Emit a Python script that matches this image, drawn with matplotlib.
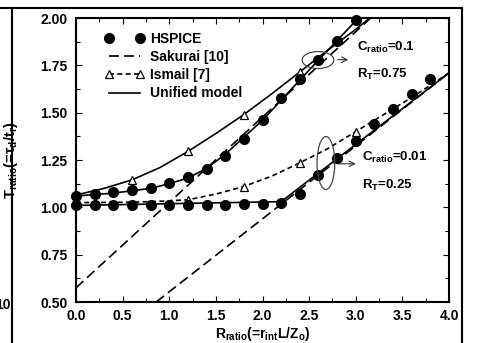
import matplotlib
matplotlib.use("Agg")
import matplotlib.pyplot as plt
from matplotlib.patches import Ellipse
from matplotlib.lines import Line2D
from matplotlib.ticker import MultipleLocator

plt.rcParams['font.family'] = ['Liberation Sans', 'DejaVu Sans']
plt.rcParams['font.weight'] = 'bold'
plt.rcParams['mathtext.fontset'] = 'custom'
plt.rcParams['mathtext.rm'] = 'Liberation Sans:bold'
plt.rcParams['mathtext.bf'] = 'Liberation Sans:bold'
plt.rcParams['mathtext.it'] = 'Liberation Sans:bold'
plt.rcParams['mathtext.default'] = 'bf'

# ---- data ----
# HSPICE, C_ratio=0.1, R_T=0.75
hs_hi_x = [0.0, 0.2, 0.4, 0.6, 0.8, 1.0, 1.2, 1.4, 1.6, 1.8, 2.0, 2.2, 2.4, 2.6, 2.8, 3.0]
hs_hi_y = [1.06, 1.07, 1.08, 1.09, 1.10, 1.13, 1.16, 1.20, 1.27, 1.36, 1.46, 1.58, 1.68, 1.78, 1.88, 1.99]
# HSPICE, C_ratio=0.01, R_T=0.25
hs_lo_x = [0.0, 0.2, 0.4, 0.6, 0.8, 1.0, 1.2, 1.4, 1.6, 1.8, 2.0, 2.2, 2.4, 2.6, 2.8, 3.0, 3.2, 3.4, 3.6, 3.8]
hs_lo_y = [1.01, 1.01, 1.01, 1.01, 1.01, 1.01, 1.01, 1.01, 1.01, 1.015, 1.015, 1.025, 1.07, 1.17, 1.26, 1.35, 1.44, 1.52, 1.60, 1.68]

# Sakurai [10]
sak_hi_x = [0.0, 3.16]
sak_hi_y = [0.575, 2.0]
sak_lo_x = [0.86, 4.0]
sak_lo_y = [0.5, 1.71]

# Ismail [7]
ism_hi_x = [0.0, 0.3, 0.6, 0.9, 1.2, 1.5, 1.8, 2.1, 2.4, 2.7, 3.0, 3.15]
ism_hi_y = [1.065, 1.10, 1.145, 1.21, 1.295, 1.39, 1.49, 1.60, 1.715, 1.83, 1.94, 2.0]
ism_hi_mx = [0.6, 1.2, 1.8, 2.4]
ism_hi_my = [1.145, 1.295, 1.49, 1.715]
ism_lo_x = [0.0, 0.6, 0.9, 1.2, 1.5, 1.8, 2.1, 2.4, 2.7, 3.0, 3.3, 3.6, 4.0]
ism_lo_y = [1.025, 1.027, 1.032, 1.04, 1.07, 1.11, 1.165, 1.235, 1.31, 1.40, 1.49, 1.58, 1.71]
ism_lo_mx = [1.2, 1.8, 2.4, 3.0]
ism_lo_my = [1.04, 1.11, 1.235, 1.40]

# Unified model
uni_hi_x = [0.0, 0.4, 0.8, 1.0, 1.2, 1.4, 1.6, 2.0, 2.5, 3.0, 3.03]
uni_hi_y = [1.06, 1.075, 1.10, 1.125, 1.155, 1.205, 1.28, 1.46, 1.725, 1.985, 2.0]
uni_lo_x = [0.0, 2.2, 4.0]
uni_lo_y = [1.01, 1.03, 1.71]

xticks = [0.0, 0.5, 1.0, 1.5, 2.0, 2.5, 3.0, 3.5, 4.0]
yticks = [0.50, 0.75, 1.00, 1.25, 1.50, 1.75, 2.00]

fig = plt.figure(figsize=(4.79, 3.43), dpi=100)
ax = fig.add_axes([76/479, 1-302/343, (449-76)/479, (302-18)/343])

lw = 1.2
# Sakurai
ax.plot(sak_hi_x, sak_hi_y, color='black', lw=lw, ls=(0, (6, 3)), zorder=2)
ax.plot(sak_lo_x, sak_lo_y, color='black', lw=lw, ls=(0, (6, 3)), zorder=2)
# Ismail
ax.plot(ism_hi_x, ism_hi_y, color='black', lw=lw, ls='-', zorder=2)
ax.plot(ism_hi_mx, ism_hi_my, ls='none', marker='^', ms=6, mfc='white', mec='black', mew=0.9, zorder=4)
ax.plot(ism_lo_x, ism_lo_y, color='black', lw=lw, ls=(0, (3, 2)), zorder=2)
ax.plot(ism_lo_mx, ism_lo_my, ls='none', marker='^', ms=6, mfc='white', mec='black', mew=0.9, zorder=4)
# Unified
ax.plot(uni_hi_x, uni_hi_y, color='black', lw=lw, zorder=3)
ax.plot(uni_lo_x, uni_lo_y, color='black', lw=lw, zorder=3)
# HSPICE
ax.plot(hs_hi_x, hs_hi_y, ls='none', marker='o', ms=7, color='black', zorder=5, clip_on=False)
ax.plot(hs_lo_x, hs_lo_y, ls='none', marker='o', ms=7, color='black', zorder=5, clip_on=False)

ax.set_xlim(0, 4)
ax.set_ylim(0.5, 2.0)
ax.set_xticks(xticks)
ax.set_yticks(yticks)
ax.set_xticklabels(['%.1f' % v for v in xticks])
ax.set_yticklabels(['%.2f' % v for v in yticks])
ax.xaxis.set_minor_locator(MultipleLocator(0.25))
ax.yaxis.set_minor_locator(MultipleLocator(0.125))
ax.tick_params(which='both', direction='in', top=True, right=True, labelsize=10, width=0.8)
ax.tick_params(which='major', length=4, pad=6)
ax.tick_params(axis='x', which='major', pad=5)
ax.tick_params(which='minor', length=3)
for lab in ax.get_xticklabels() + ax.get_yticklabels():
    lab.set_fontweight('bold')
for s in ax.spines.values():
    s.set_linewidth(1.5)

ax.set_xlabel(r'R$_{ratio}$(=r$_{int}$L/Z$_{o}$)', fontsize=10, fontweight='bold')
ax.xaxis.set_label_coords(0.5, -0.08)
ax.set_ylabel(r'T$_{ratio}$(=τ$_{d}$/t$_{r}$)', fontsize=10.5, fontweight='bold')
ax.yaxis.set_label_coords(-0.15, 0.5)

handles = [
    Line2D([], [], ls='none', marker='o', ms=7, color='black'),
    Line2D([], [], ls=(0, (6, 3)), color='black', lw=lw),
    Line2D([], [], ls=(0, (3, 2)), color='black', lw=lw, marker='^', ms=6, mfc='white', mec='black', mew=0.9),
    Line2D([], [], ls='-', color='black', lw=lw),
]
ax.legend(handles, ['HSPICE', 'Sakurai [10]', 'Ismail [7]', 'Unified model'],
          loc='upper left', bbox_to_anchor=(0.045, 0.995), frameon=False, numpoints=2,
          handlelength=2.8, handletextpad=0.4, labelspacing=0.3,
          prop={'weight': 'bold', 'size': 10})

# annotations
ax.add_patch(Ellipse((2.595, 1.778), 0.34, 0.09, fill=False, ec='#444444', lw=0.9, zorder=6))
ax.annotate('', xy=(2.95, 1.78), xytext=(2.775, 1.78),
            arrowprops=dict(arrowstyle='->', color='#333333', lw=0.8))
ax.text(3.01, 1.847, r'C$_{ratio}$=0.1', fontsize=9.5, fontweight='bold', va='center')
ax.text(3.01, 1.704, r'R$_{T}$=0.75', fontsize=9.5, fontweight='bold', va='center')

ax.add_patch(Ellipse((2.68, 1.234), 0.19, 0.28, fill=False, ec='#444444', lw=0.9, zorder=6))
ax.annotate('', xy=(3.03, 1.23), xytext=(2.775, 1.23),
            arrowprops=dict(arrowstyle='->', color='#333333', lw=0.8))
ax.text(3.07, 1.266, r'C$_{ratio}$=0.01', fontsize=9.5, fontweight='bold', va='center')
ax.text(3.07, 1.118, r'R$_{T}$=0.25', fontsize=9.5, fontweight='bold', va='center')

# outer frame from the scanned page
fig.add_artist(Line2D([0, 462/479], [1-8/343, 1-8/343], color='black', lw=1.5, transform=fig.transFigure))
fig.add_artist(Line2D([12/479, 12/479], [0, 1-8/343], color='black', lw=1.5, transform=fig.transFigure))
fig.add_artist(Line2D([462/479, 462/479], [0, 1-8/343], color='black', lw=1.5, transform=fig.transFigure))
fig.text(11/479, 1-305/343, '10', ha='right', va='center', fontsize=10, fontweight='bold')

fig.savefig('out.png', dpi=100)
